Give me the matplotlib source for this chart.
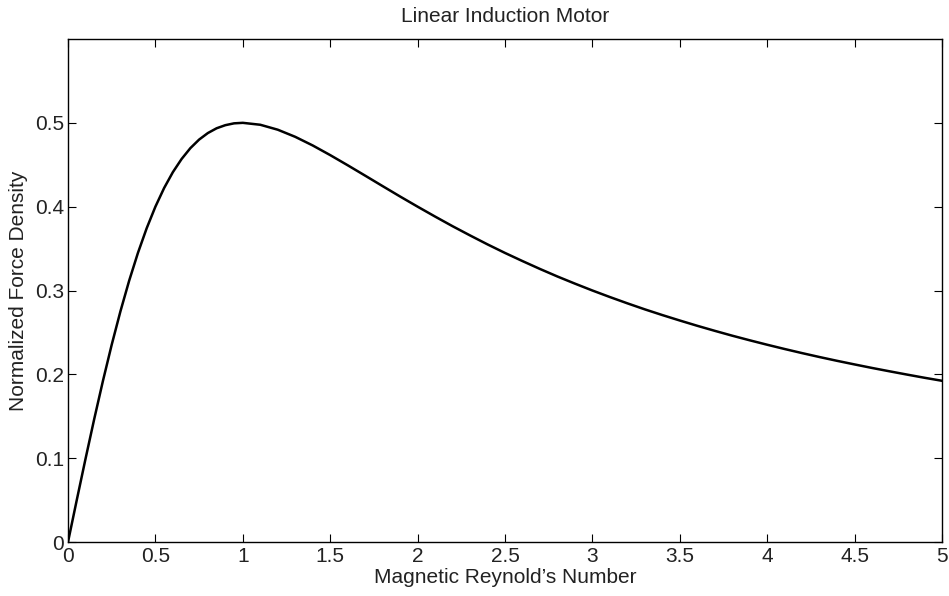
import numpy as np
import matplotlib
matplotlib.use("Agg")
import matplotlib.pyplot as plt

# -------------------------
# Data
# -------------------------
reynolds = [0.0, 0.05, 0.1, 0.15, 0.2, 0.25, 0.3, 0.35, 0.4, 0.45, 0.5,
            0.55, 0.6, 0.65, 0.7, 0.75, 0.8, 0.85, 0.9, 0.95, 1.0,
            1.1, 1.2, 1.3, 1.4, 1.5, 1.6, 1.7, 1.8, 1.9, 2.0,
            2.1, 2.2, 2.3, 2.4, 2.5, 2.6, 2.7, 2.8, 2.9, 3.0,
            3.1, 3.2, 3.3, 3.4, 3.5, 3.6, 3.7, 3.8, 3.9, 4.0,
            4.1, 4.2, 4.3, 4.4, 4.5, 4.6, 4.7, 4.8, 4.9, 5.0]
force = [0.0000, 0.0499, 0.0990, 0.1467, 0.1923, 0.2353, 0.2752, 0.3118, 0.3448, 0.3742, 0.4000,
         0.4223, 0.4412, 0.4569, 0.4698, 0.4800, 0.4878, 0.4935, 0.4972, 0.4994, 0.5000,
         0.4977, 0.4918, 0.4833, 0.4730, 0.4615, 0.4494, 0.4370, 0.4245, 0.4121, 0.4000,
         0.3882, 0.3767, 0.3657, 0.3550, 0.3448, 0.3351, 0.3257, 0.3167, 0.3082, 0.3000,
         0.2922, 0.2847, 0.2775, 0.2707, 0.2642, 0.2579, 0.2519, 0.2461, 0.2406, 0.2353,
         0.2302, 0.2253, 0.2206, 0.2161, 0.2118, 0.2076, 0.2036, 0.1997, 0.1959, 0.1923]

xticks = [0, 0.5, 1, 1.5, 2, 2.5, 3, 3.5, 4, 4.5, 5]
xtick_labels = ["0", "0.5", "1", "1.5", "2", "2.5", "3", "3.5", "4", "4.5", "5"]
yticks = [0, 0.1, 0.2, 0.3, 0.4, 0.5]
ytick_labels = ["0", "0.1", "0.2", "0.3", "0.4", "0.5"]

plt.rcParams["font.family"] = ["Liberation Sans", "DejaVu Sans"]

fig = plt.figure(figsize=(9.49, 5.96), dpi=100)
ax = fig.add_axes([68 / 949, 1 - 542 / 596, (942 - 68) / 949, (542 - 39) / 596])

ax.plot(reynolds, force, color="black", linewidth=1.8, solid_joinstyle="round")

ax.set_xlim(0, 5)
ax.set_ylim(0, 0.6)
ax.set_xticks(xticks)
ax.set_xticklabels(xtick_labels)
ax.set_yticks(yticks)
ax.set_yticklabels(ytick_labels)

ax.tick_params(direction="in", top=True, right=True, length=6, width=0.8,
               labelsize=15, colors="black", labelcolor="#222222")
ax.tick_params(axis="x", pad=3.5)
ax.tick_params(axis="y", pad=3)
for s in ax.spines.values():
    s.set_linewidth(1.0)

ax.set_title("Linear Induction Motor", fontsize=15, pad=12, color="#222222")
ax.set_xlabel("Magnetic Reynold\u2019s Number", fontsize=15, labelpad=1.5, color="#222222")
ax.set_ylabel("Normalized Force Density", fontsize=15, labelpad=5, color="#222222")

fig.savefig("out.png", dpi=100)
